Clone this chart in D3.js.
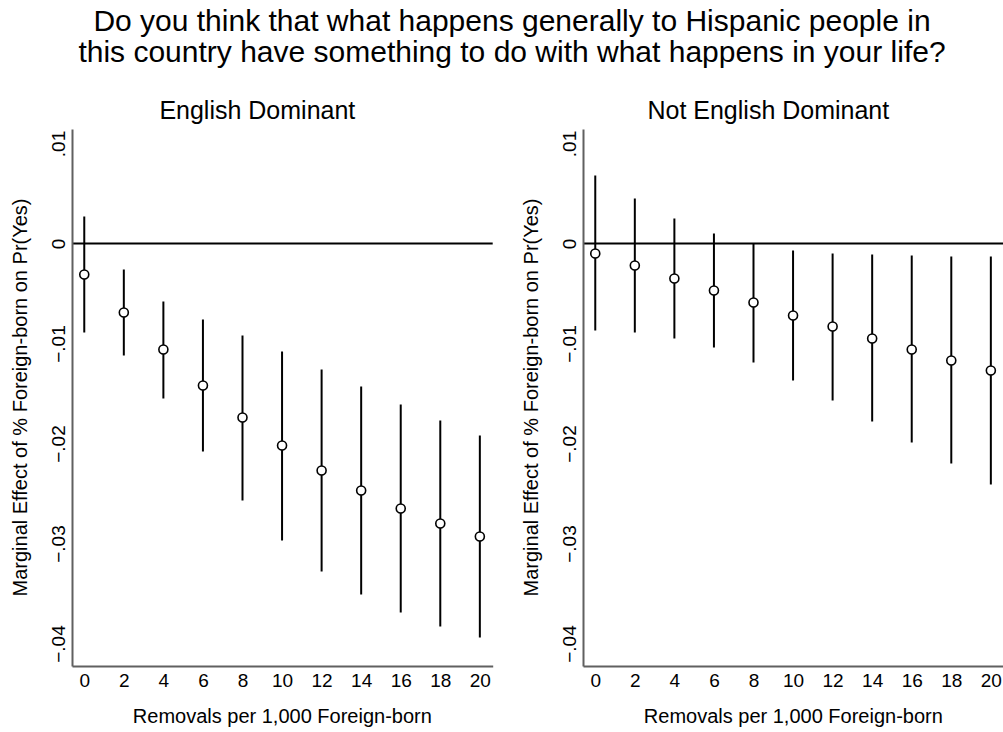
<!DOCTYPE html>
<html>
<head>
<meta charset="utf-8">
<script src="https://cdn.jsdelivr.net/npm/d3@7"></script>
<style>
  body { margin: 0; background: #fff; }
  text { font-family: "Liberation Sans", Arial, sans-serif; fill: #000; }
</style>
</head>
<body>
<svg id="chart" width="1003" height="732"></svg>
<script>
const removals = [0, 2, 4, 6, 8, 10, 12, 14, 16, 18, 20];
const yTicks = [0.01, 0, -0.01, -0.02, -0.03, -0.04];
const titleLines = [
  "Do you think that what happens generally to Hispanic people in",
  "this country have something to do with what happens in your life?"
];

const englishEst = [-0.0031, -0.0069, -0.0106, -0.0142, -0.0174, -0.0202, -0.0227, -0.0247, -0.0265, -0.0280, -0.0293];
const englishLo = [-0.0089, -0.0112, -0.0155, -0.0208, -0.0257, -0.0297, -0.0328, -0.0351, -0.0369, -0.0383, -0.0394];
const englishHi = [0.0027, -0.0026, -0.0058, -0.0076, -0.0092, -0.0108, -0.0126, -0.0143, -0.0161, -0.0177, -0.0192];

const notEnglishEst = [-0.0010, -0.0022, -0.0035, -0.0047, -0.0059, -0.0072, -0.0083, -0.0095, -0.0106, -0.0117, -0.0127];
const notEnglishLo = [-0.0087, -0.0089, -0.0095, -0.0104, -0.0119, -0.0137, -0.0157, -0.0178, -0.0199, -0.0220, -0.0241];
const notEnglishHi = [0.0068, 0.0045, 0.0025, 0.0010, 0.0000, -0.0007, -0.0010, -0.0011, -0.0012, -0.0013, -0.0013];

const panels = [
  { title: "English Dominant", est: englishEst, lo: englishLo, hi: englishHi, left: 0 },
  { title: "Not English Dominant", est: notEnglishEst, lo: notEnglishLo, hi: notEnglishHi, left: 511 }
];

const svg = d3.select("#chart");
const plotLeft = 72, plotTop = 129, plotW = 420.7, plotH = 537;

// overall title, two lines
titleLines.forEach((line, i) => {
  svg.append("text")
    .attr("x", 512).attr("y", 31 + i * 31)
    .attr("text-anchor", "middle")
    .style("font-size", "30px")
    .text(line);
});

let x = d3.scaleLinear().domain([-0.62, 20.65]).range([0, plotW]);
let y = d3.scaleLinear().domain([-0.04225, 0.01145]).range([plotH, 0]);

panels.forEach(p => {
  let g = svg.append("g")
    .attr("transform", "translate(" + (p.left + plotLeft) + "," + plotTop + ")");

  // panel title
  g.append("text")
    .attr("x", plotW / 2 - 25).attr("y", -10)
    .attr("text-anchor", "middle")
    .style("font-size", "25px")
    .text(p.title);

  // zero line
  g.append("line")
    .attr("x1", 0).attr("x2", plotW)
    .attr("y1", y(0)).attr("y2", y(0))
    .attr("stroke", "#000").attr("stroke-width", 2);

  // error bars
  g.selectAll(".ci")
    .data(removals)
    .enter().append("line")
    .attr("class", "ci")
    .attr("x1", d => x(d)).attr("x2", d => x(d))
    .attr("y1", (d, i) => y(p.lo[i]))
    .attr("y2", (d, i) => y(p.hi[i]))
    .attr("stroke", "#000").attr("stroke-width", 2);

  // point estimates
  g.selectAll(".pt")
    .data(removals)
    .enter().append("circle")
    .attr("class", "pt")
    .attr("cx", d => x(d))
    .attr("cy", (d, i) => y(p.est[i]))
    .attr("r", 4.5)
    .attr("fill", "#fff")
    .attr("stroke", "#000").attr("stroke-width", 1.6);

  // X axis
  let xAxis = d3.axisBottom(x).tickValues(removals).tickSize(0).tickPadding(8);
  let xg = g.append("g")
    .attr("transform", "translate(0," + plotH + ")")
    .call(xAxis);
  xg.select(".domain").attr("stroke", "#606060").attr("stroke-width", 2);
  xg.selectAll("text").style("font-size", "19px").attr("fill", "#000");

  // Y axis
  let yAxis = d3.axisLeft(y).tickValues(yTicks).tickSize(0)
    .tickFormat(d => d === 0 ? "0" : d3.format(".2f")(d).replace("0.", "."));
  let yg = g.append("g").call(yAxis);
  yg.select(".domain").attr("stroke", "#606060").attr("stroke-width", 2);
  yg.selectAll("text")
    .style("font-size", "19px").attr("fill", "#000")
    .attr("text-anchor", "middle")
    .attr("transform", "rotate(-90)")
    .attr("x", 0).attr("dy", 0)
    .attr("y", -7);

  // X title
  g.append("text")
    .attr("x", plotW / 2).attr("y", plotH + 57)
    .attr("text-anchor", "middle")
    .style("font-size", "20px")
    .text("Removals per 1,000 Foreign-born");

  // Y title
  g.append("text")
    .attr("transform", "rotate(-90)")
    .attr("x", -plotH / 2).attr("y", -45)
    .attr("text-anchor", "middle")
    .style("font-size", "20px")
    .text("Marginal Effect of % Foreign-born on Pr(Yes)");
});
</script>
</body>
</html>
